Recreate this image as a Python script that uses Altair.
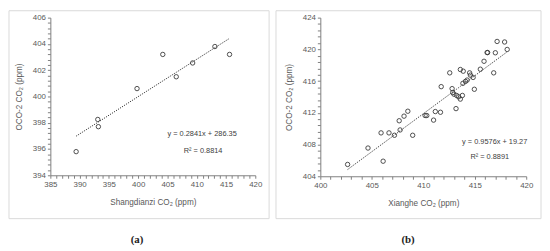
import altair as alt
import pandas as pd

# ---------------- data ----------------
# Panel (a): Shangdianzi vs OCO-2
a_x = [389.4, 393.1, 393.2, 399.8, 404.2, 406.5, 409.3, 413.1, 415.6]
a_y = [395.8, 398.25, 397.7, 400.6, 403.2, 401.5, 402.55, 403.8, 403.2]
a_slope, a_intercept = 0.2841, 286.35
a_eq = "y = 0.2841x + 286.35"
a_r2 = "R\u00b2 = 0.8814"
a_xtitle = "Shangdianzi CO\u2082 (ppm)"
a_caption = "(a)"

# Panel (b): Xianghe vs OCO-2
b_x = [402.65, 404.63, 405.9, 406.1, 406.67, 407.2, 407.66, 407.75, 408.13, 408.5,
       408.97, 410.18, 410.34, 411.0, 411.17, 411.74, 411.67, 412.57, 412.8, 412.86,
       412.98, 413.18, 413.24, 413.43, 413.6, 413.88, 413.6, 413.8, 413.85, 414.1,
       414.26, 414.5, 414.58, 414.84, 414.96, 415.54, 415.9, 416.2, 416.25, 416.84,
       417.0, 417.17, 417.9, 418.15]
b_y = [405.49, 407.56, 409.47, 405.9, 409.47, 409.17, 411.0, 409.84, 411.58, 412.2,
       409.17, 411.66, 411.66, 411.08, 412.16, 415.3, 412.07, 417.04, 415.05, 414.56,
       414.35, 412.53, 414.19, 414.02, 417.46, 417.25, 413.73, 414.19, 415.72, 415.96,
       416.13, 417.04, 416.75, 416.46, 414.97, 417.5, 418.5, 419.6, 419.6, 417.04,
       419.57, 421.0, 420.93, 419.99]
b_slope, b_intercept = 0.9576, 19.27
b_eq = "y = 0.9576x + 19.27"
b_r2 = "R\u00b2 = 0.8891"
b_xtitle = "Xianghe  CO\u2082 (ppm)"
b_caption = "(b)"

ytitle = "OCO-2 CO\u2082 (ppm)"

FONT = "Liberation Sans"
GRAY = "#595959"
AXC = "#808080"


def ticks(lo, hi, step):
    n = int(round((hi - lo) / step))
    return [round(lo + i * step, 3) for i in range(n + 1)]


def make_axis(title, lo, hi, major, minor, orient):
    expr = (f"abs(datum.value/{major} - round(datum.value/{major})) < 0.001"
            f" ? format(datum.value, 'd') : ''")
    return alt.Axis(
        title=title, values=ticks(lo, hi, minor), labelExpr=expr,
        grid=False, domainColor=AXC, tickColor=AXC, tickSize=3, tickWidth=1,
        labelFont=FONT, labelFontSize=8, labelColor=GRAY, labelPadding=2,
        labelOverlap=False, labelFlush=False,
        titleFont=FONT, titleFontSize=8.3, titleFontWeight="normal", titleColor=GRAY,
        titlePadding=9 if orient == "left" else 10,
    )


def panel(xs, ys, slope, intercept, xdom, xmaj, xmin, ydom, ymaj, ymin, w, h,
          xtitle, eq, r2, eq_pos, r2_pos, caption, cap_pos, frame):
    df = pd.DataFrame({"x": xs, "y": ys})
    xs_ = alt.Scale(domain=xdom, nice=False, zero=False)
    ys_ = alt.Scale(domain=ydom, nice=False, zero=False)
    xax = make_axis(xtitle, xdom[0], xdom[1], xmaj, xmin, "bottom")
    yax = make_axis(ytitle, ydom[0], ydom[1], ymaj, ymin, "left")

    one = alt.Data(values=[{}])
    border = alt.Chart(one).mark_rect(filled=False, stroke="#d9d9d9", strokeWidth=1).encode(
        x=alt.value(frame[0]), x2=alt.value(frame[1]),
        y=alt.value(frame[2]), y2=alt.value(frame[3]))

    pts = alt.Chart(df).mark_point(shape="circle", filled=False, size=20,
                                   color="#3a3a3a", strokeWidth=0.9, opacity=1).encode(
        x=alt.X("x:Q", scale=xs_, axis=xax), y=alt.Y("y:Q", scale=ys_, axis=yax))
    fit = alt.Chart(df).transform_calculate(
        fit=f"{slope} * datum.x + {intercept}"
    ).mark_line(color="#3a3a3a", strokeDash=[1.2, 1.2], strokeWidth=1).encode(
        x=alt.X("x:Q", scale=xs_, axis=xax), y=alt.Y("fit:Q", scale=ys_, axis=yax))

    def txt(t, pos, size=7.5, font=FONT, weight="normal", color="#404040"):
        return alt.Chart(one).mark_text(font=font, fontSize=size, fontWeight=weight,
                                        color=color, align="center", baseline="middle").encode(
            x=alt.value(pos[0]), y=alt.value(pos[1]), text=alt.value(t))

    layers = [border, pts, fit,
              txt(eq, eq_pos), txt(r2, r2_pos),
              txt(caption, cap_pos, size=11, font="Liberation Serif", weight="bold", color="#222222")]
    return alt.layer(*layers).properties(width=w, height=h)


pa = panel(a_x, a_y, a_slope, a_intercept, [385, 420], 5, 1, [394, 406], 2, 0.4, 208, 160,
           a_xtitle, a_eq, a_r2, (154, 118), (155, 135), a_caption, (88, 226),
           (-42, 222, -7, 204))
pb = panel(b_x, b_y, b_slope, b_intercept, [400, 420], 5, 1, [404, 424], 4, 0.8, 209, 161,
           b_xtitle, b_eq, b_r2, (177, 126), (172, 141), b_caption, (89, 226),
           (-45, 224, -7, 204))

chart = alt.hconcat(pa, pb, spacing=66, bounds="flush").properties(
    padding=0, background="white"
).configure_view(stroke=None).configure_axis(labelOverlap=False)

chart.save("out.html", embed_options={"renderer": "svg", "actions": False})
